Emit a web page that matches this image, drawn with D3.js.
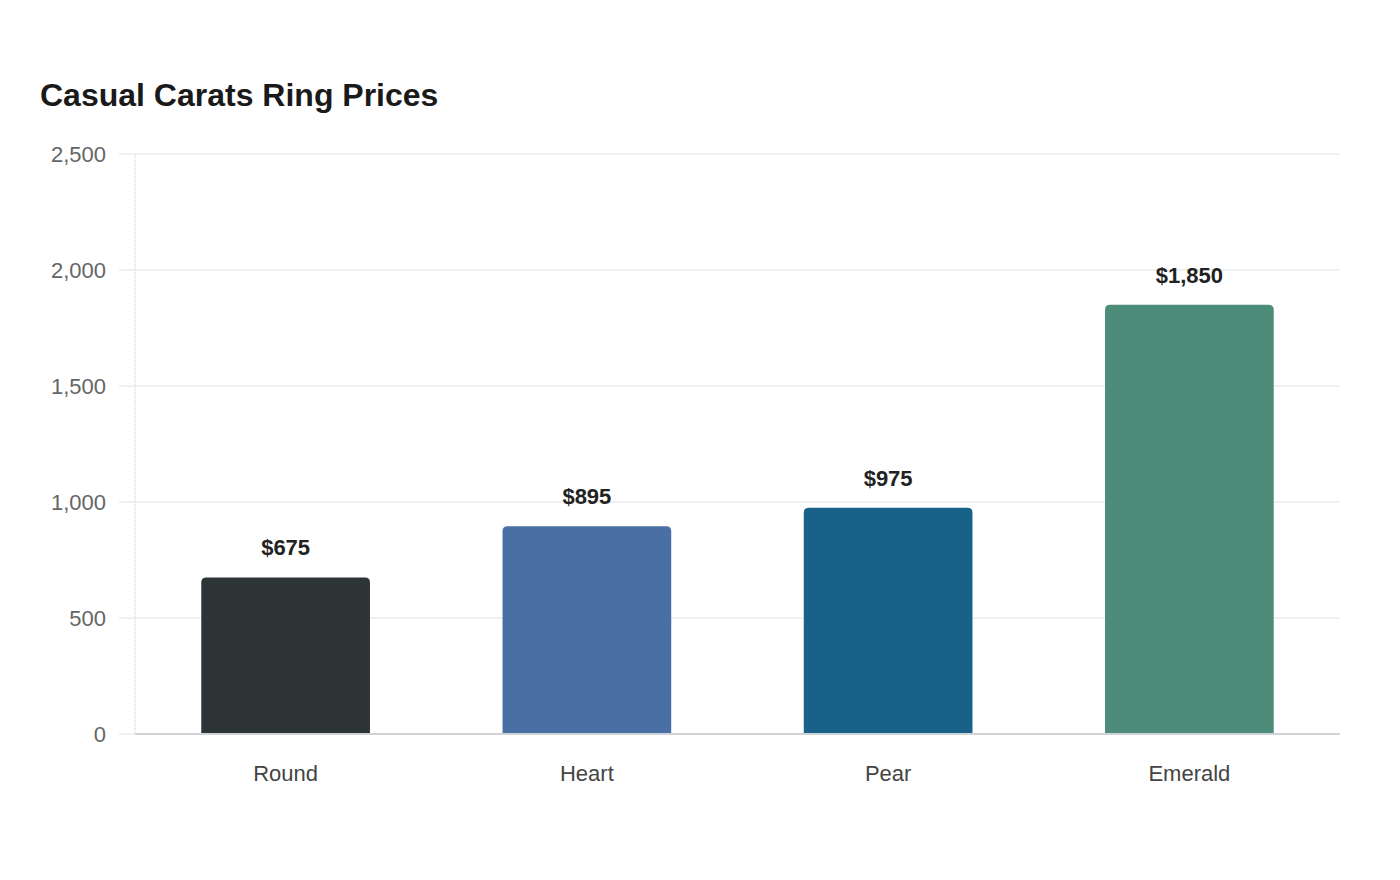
<!DOCTYPE html>
<html>
<head>
<meta charset="utf-8">
<script src="https://cdn.jsdelivr.net/npm/d3@7"></script>
<style>
  body { margin: 0; background: #fff; font-family: "Liberation Sans", Arial, sans-serif; }
</style>
</head>
<body>
<svg id="chart"></svg>
<script>
const shapes = ['Round', 'Heart', 'Pear', 'Emerald'];
const prices = [675, 895, 975, 1850];
const barColors = ['#2d3436', '#4a6fa5', '#186188', '#4e8c7a'];
const yTicks = [0, 500, 1000, 1500, 2000, 2500];

const W = 1400, H = 880;
const margin = { top: 154, right: 60, bottom: 146, left: 135 };
const width = W - margin.left - margin.right;
const height = H - margin.top - margin.bottom;

const svg = d3.select('#chart').attr('width', W).attr('height', H);

svg.append('text')
  .attr('x', 40).attr('y', 106)
  .style('font-size', '32px').style('font-weight', 'bold')
  .style('fill', '#1a1a1a')
  .text('Casual Carats Ring Prices');

const chart = svg.append('g').attr('transform', `translate(${margin.left},${margin.top})`);

const x = d3.scaleBand().domain(shapes).range([0, width]).paddingInner(0.44).paddingOuter(0.22);
const y = d3.scaleLinear().domain([0, 2500]).range([height, 0]);

// grid lines
chart.selectAll('.grid')
  .data(yTicks)
  .enter().append('line')
  .attr('x1', -16).attr('x2', width)
  .attr('y1', d => y(d)).attr('y2', d => y(d))
  .attr('stroke', '#ebebeb').attr('stroke-width', 1.5);

// y axis line (dotted)
chart.append('line')
  .attr('x1', 0).attr('x2', 0).attr('y1', 0).attr('y2', height)
  .attr('stroke', '#ccc').attr('stroke-dasharray', '1,1');

const yAxis = chart.append('g')
  .call(d3.axisLeft(y).tickValues(yTicks).tickSize(0).tickPadding(29).tickFormat(d3.format(',')));
yAxis.select('.domain').remove();
yAxis.selectAll('text').style('font-size', '22px').style('fill', '#666')
  .style('font-family', '"Liberation Sans", Arial, sans-serif');

const xAxis = chart.append('g')
  .attr('transform', `translate(0,${height})`)
  .call(d3.axisBottom(x).tickSize(0).tickPadding(31));
xAxis.select('.domain').remove();
xAxis.selectAll('text').style('font-size', '22px').style('fill', '#444')
  .style('font-family', '"Liberation Sans", Arial, sans-serif');

const r = 5;
const barPath = (d, i) => {
  const x0 = x(shapes[i]), w = x.bandwidth();
  const top = y(d), bottom = y(0);
  return `M${x0},${bottom}V${top + r}Q${x0},${top} ${x0 + r},${top}H${x0 + w - r}Q${x0 + w},${top} ${x0 + w},${top + r}V${bottom}Z`;
};

chart.selectAll('.bar')
  .data(prices)
  .enter().append('path')
  .attr('class', 'bar')
  .attr('d', barPath)
  .attr('fill', (d, i) => barColors[i]);

// baseline
chart.append('line')
  .attr('x1', 0).attr('x2', width).attr('y1', height).attr('y2', height)
  .attr('stroke', '#cfd3d6').attr('stroke-width', 2);

chart.selectAll('.label')
  .data(prices)
  .enter().append('text')
  .attr('x', (d, i) => x(shapes[i]) + x.bandwidth() / 2)
  .attr('y', d => y(d) - 22)
  .attr('text-anchor', 'middle')
  .style('font-size', '22px').style('font-weight', 'bold').style('fill', '#222')
  .text(d => '$' + d3.format(',')(d));
</script>
</body>
</html>
